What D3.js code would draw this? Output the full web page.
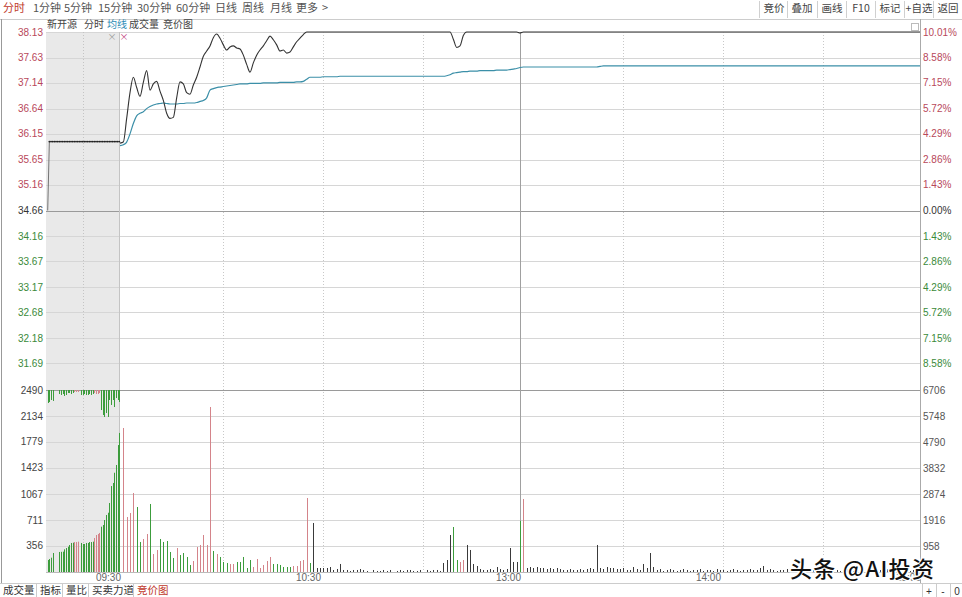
<!DOCTYPE html>
<html>
<head>
<meta charset="utf-8">
<script src="https://cdn.jsdelivr.net/npm/d3@7"></script>
<style>
  body { margin: 0; background: #fff; }
  svg text { font-family: "Noto Sans CJK SC", "Liberation Sans", sans-serif; }
  .num { font-family: "Liberation Sans", Arial, sans-serif; }
</style>
</head>
<body>
<div id="chart"></div>
<script>
// ---- data ----
var prevClose = 34.66;
var priceTicks = ["38.13","37.63","37.14","36.64","36.15","35.65","35.16","34.66","34.16","33.67","33.17","32.68","32.18","31.69"];
var pctTicks = ["10.01%","8.58%","7.15%","5.72%","4.29%","2.86%","1.43%","0.00%","1.43%","2.86%","4.29%","5.72%","7.15%","8.58%"];
var volTicksL = ["2490","2134","1779","1423","1067","711","356"];
var volTicksR = ["6706","5748","4790","3832","2874","1916","958"];
var timeLabels = [["09:30", 0], ["10:30", 60], ["13:00", 120], ["14:00", 180], ["15:00", 240]];
var gridMinutes = [30, 60, 90, 150, 180, 210];

// call auction 9:15-9:25
var aucPrice = [34.66,36.00,36.00,36.00,36.00,36.00,36.00,36.00,36.00,36.00,
  36.00,36.00,36.00,36.00,36.00,36.00,36.00,36.00,36.00,36.00,
  36.00,36.00,36.00,36.00,36.00,36.00,36.00,36.00,36.00,36.00,
  36.00,36.00,36.00,36.00,36.00,36.00,36.00,36.00,36.00,36.00,
  36.00,36.00,36.00,36.00];
var aucMatched = [164,178,196,260,0,0,0,274,276,278,310,328,346,369,397,401,410,410,415,0,
  397,383,383,397,397,410,410,415,465,506,520,534,620,643,711,780,811,944,1176,1218,
  1358,1464,1737,1902];
var aucUnmatched = [178,164,137,150,0,0,0,55,68,55,82,68,41,41,55,41,27,27,27,0,
  68,68,55,68,68,55,68,55,41,55,55,41,274,342,369,315,369,137,205,137,
  233,110,137,164];
var aucDir = "ggggggggggggggggrrrgggggggggrrrrgggggggggggg";

// continuous trading, one value per minute from 09:30 (index 0) to 15:00 (index 240)
var price = [
  35.97,35.99,36.45,36.95,37.25,37.05,36.88,37.15,37.38,37.00,
  37.12,37.17,36.98,36.80,36.55,36.45,36.47,36.85,37.16,37.12,
  36.95,36.92,37.10,37.25,37.45,37.66,37.76,37.86,38.02,38.09,
  38.01,37.88,37.78,37.84,37.86,37.82,37.80,37.68,37.50,37.35,
  37.53,37.68,37.78,37.86,37.96,38.05,37.98,37.88,37.76,37.78,
  37.72,37.74,37.84,37.94,38.01,38.08,38.13,38.13,38.13,38.13,
  38.13,38.13,38.13,38.13,38.13,38.13,38.13,38.13,38.13,38.13,
  38.13,38.13,38.13,38.13,38.13,38.13,38.13,38.13,38.13,38.13,
  38.13,38.13,38.13,38.13,38.13,38.13,38.13,38.13,38.13,38.13,
  38.13,38.13,38.13,38.13,38.13,38.13,38.13,38.13,38.13,38.13,
  37.99,37.83,37.86,38.06,38.13,38.13,38.13,38.13,38.13,38.13,
  38.13,38.13,38.13,38.13,38.13,38.13,38.13,38.13,38.13,38.13,
  38.11,38.13,38.13,38.13,38.13,38.13,38.13,38.13,38.13,38.13,
  38.13,38.13,38.13,38.13,38.13,38.13,38.13,38.13,38.13,38.13,
  38.13,38.13,38.13,38.13,38.13,38.13,38.13,38.13,38.13,38.13,
  38.13,38.13,38.13,38.13,38.13,38.13,38.13,38.13,38.13,38.13,
  38.13,38.13,38.13,38.13,38.13,38.13,38.13,38.13,38.13,38.13,
  38.13,38.13,38.13,38.13,38.13,38.13,38.13,38.13,38.13,38.13,
  38.13,38.13,38.13,38.13,38.13,38.13,38.13,38.13,38.13,38.13,
  38.13,38.13,38.13,38.13,38.13,38.13,38.13,38.13,38.13,38.13,
  38.13,38.13,38.13,38.13,38.13,38.13,38.13,38.13,38.13,38.13,
  38.13,38.13,38.13,38.13,38.13,38.13,38.13,38.13,38.13,38.13,
  38.13,38.13,38.13,38.13,38.13,38.13,38.13,38.13,38.13,38.13,
  38.13,38.13,38.13,38.13,38.13,38.13,38.13,38.13,38.13,38.13,
  38.13];
var avgPrice = [
  35.92,35.94,35.99,36.15,36.35,36.50,36.55,36.58,36.64,36.68,
  36.71,36.73,36.74,36.75,36.74,36.73,36.73,36.73,36.74,36.74,
  36.75,36.75,36.75,36.76,36.78,36.80,36.85,37.00,37.03,37.05,
  37.06,37.07,37.08,37.09,37.10,37.11,37.12,37.12,37.12,37.13,
  37.13,37.13,37.13,37.14,37.14,37.14,37.14,37.14,37.15,37.15,
  37.15,37.15,37.15,37.16,37.16,37.17,37.21,37.25,37.25,37.25,
  37.25,37.26,37.26,37.26,37.26,37.26,37.27,37.27,37.27,37.27,
  37.27,37.27,37.27,37.27,37.27,37.27,37.27,37.27,37.27,37.27,
  37.27,37.27,37.27,37.27,37.27,37.27,37.27,37.27,37.27,37.27,
  37.27,37.27,37.27,37.27,37.27,37.27,37.27,37.27,37.28,37.30,
  37.33,37.34,37.35,37.36,37.36,37.37,37.37,37.37,37.38,37.38,
  37.38,37.38,37.38,37.39,37.39,37.39,37.39,37.40,37.41,37.42,
  37.44,37.45,37.45,37.45,37.45,37.45,37.45,37.45,37.45,37.45,
  37.45,37.45,37.45,37.45,37.45,37.45,37.45,37.45,37.45,37.45,
  37.45,37.45,37.45,37.45,37.46,37.47,37.47,37.47,37.47,37.47,
  37.47,37.47,37.47,37.47,37.47,37.47,37.47,37.47,37.47,37.47,
  37.47,37.47,37.47,37.47,37.47,37.47,37.47,37.47,37.47,37.47,
  37.47,37.47,37.47,37.47,37.47,37.47,37.47,37.47,37.47,37.47,
  37.47,37.47,37.47,37.47,37.47,37.47,37.47,37.47,37.47,37.47,
  37.47,37.47,37.47,37.47,37.47,37.47,37.47,37.47,37.47,37.47,
  37.47,37.47,37.47,37.47,37.47,37.47,37.47,37.47,37.47,37.47,
  37.47,37.47,37.47,37.47,37.47,37.47,37.47,37.47,37.47,37.47,
  37.47,37.47,37.47,37.47,37.47,37.47,37.47,37.47,37.47,37.47,
  37.47,37.47,37.47,37.47,37.47,37.47,37.47,37.47,37.47,37.47,
  37.47];
// volume (hands) for minutes 1..240
var volume = [
  5306,2027,2174,2911,2395,1106,1216,1400,2506,663,
  811,1216,1106,1142,737,516,884,626,700,553,
  258,405,921,995,1363,995,6080,774,663,553,
  369,332,295,295,369,369,553,147,442,184,
  479,147,258,405,553,295,295,258,184,184,
  184,221,221,405,442,2727,332,1806,147,147,
  147,147,184,74,110,295,74,74,37,74,
  74,110,74,37,0,74,37,37,74,37,
  74,0,37,74,37,74,74,37,37,74,
  0,74,37,74,74,37,332,442,1363,1658,
  442,369,442,995,811,295,221,110,74,74,
  110,74,184,110,74,110,884,369,369,1879,
  2690,147,184,147,184,147,147,110,147,110,
  147,110,74,74,110,74,74,110,74,110,
  147,110,995,147,110,184,147,147,110,110,
  147,74,74,184,110,74,295,147,700,184,
  74,110,37,74,110,74,37,74,110,74,
  37,74,74,110,37,74,74,37,110,74,
  74,37,74,110,74,37,74,74,110,74,
  74,147,221,74,110,74,37,74,74,110,
  74,37,74,74,110,37,74,74,37,74,
  74,110,37,74,74,37,74,110,74,37,
  74,74,37,110,74,74,37,74,74,110,
  74,37,74,74,110,74,37,74,74,110];
var volDir =
  "rrrrggrrgr" + "rgggggrggg" + "grrrrrrgrg" + "ggrrgggggr" + "rrrrrggggg" +
  "grrrrrgkkk" + "kkkkkkkkkk" + "kkkkkkkkkk" + "kkkkkkkkkk" + "kkkkkkkkkg" +
  "grrkkkkkkk" + "kkkkkkkkkg" + "rkkkkkkkkk" + "kkkkkkkkkk" + "kkkkkkkkkk" +
  "kkkkkkkkkk" + "kkkkkkkkkk" + "kkkkkkkkkk" + "kkkkkkkkkk" + "kkkkkkkkkk" +
  "kkkkkkkkkk" + "kkkkkkkkkk" + "kkkkkkkkkk" + "kkkkkkkkkk";

var periods = ["1分钟","5分钟","15分钟","30分钟","60分钟","日线","周线","月线","更多",">"];
var periodX = [33,64,98,137,176,215,242,270,296,322];
var tools = ["竞价","叠加","画线","F10","标记","+自选","返回"];
var toolX = [774,802,832,861,890,919,948];
var legendItems = ["新开源","分时","均线","成交量","竞价图"];
var legendX = [47,84,107,129,163];
var tabs = ["成交量","指标","量比","买卖力道","竞价图"];
var tabX = [3,40,66,92,137];

(function() {
  var width = 962,
      height = 597;

  var red = "#b8485a", green = "#3a8a3a", dark = "#333";
  var barColor = { r: "#d4848a", g: "#3c9c3c", k: "#3a3a3a" };

  var svg = d3.select("#chart")
    .append("svg")
    .attr("width", width)
    .attr("height", height);

  var x = d3.scaleLinear().domain([0, 240]).range([120, 920]);
  var xAuc = d3.scaleLinear().domain([0, 43]).range([47.7, 119.3]);
  var yPrice = d3.scaleLinear().domain([31.19, 38.13]).range([389, 32]);
  var yVolL = d3.scaleLinear().domain([0, 2490]).range([572, 390]);
  var yVolR = d3.scaleLinear().domain([0, 6706]).range([572, 390]);

  // toolbar
  svg.append("text").attr("x", 3).attr("y", 12).attr("font-size", 11)
    .attr("fill", "#c0392b").text("分时");
  svg.selectAll(".period").data(periods).enter().append("text")
    .attr("x", function(d, i) { return periodX[i]; })
    .attr("y", 12).attr("font-size", 11).attr("fill", "#555")
    .text(function(d) { return d; });
  svg.selectAll(".tool").data(tools).enter().append("text")
    .attr("x", function(d, i) { return toolX[i]; })
    .attr("y", 12).attr("font-size", 10.5).attr("fill", "#444")
    .attr("text-anchor", "middle")
    .text(function(d) { return d; });
  svg.selectAll(".toolsep").data(toolX).enter().append("line")
    .attr("x1", function(d) { return d - 14.5; }).attr("x2", function(d) { return d - 14.5; })
    .attr("y1", 1).attr("y2", 18).attr("stroke", "#d0d0d0");
  svg.append("line").attr("x1", 0).attr("x2", width).attr("y1", 19.5).attr("y2", 19.5)
    .attr("stroke", "#ccc");

  // frame
  svg.append("line").attr("x1", 1.5).attr("x2", 1.5).attr("y1", 19).attr("y2", 583)
    .attr("stroke", "#999");
  svg.append("line").attr("x1", 920.5).attr("x2", 920.5).attr("y1", 19).attr("y2", 583)
    .attr("stroke", "#aaa");
  svg.append("rect").attr("x", 911.5).attr("y", 23.5).attr("width", 7).attr("height", 7)
    .attr("fill", "none").attr("stroke", "#bbb");

  // auction background
  svg.append("rect").attr("x", 46).attr("y", 32).attr("width", 74).attr("height", 540)
    .attr("fill", "#e9e9e9");

  // legend row
  svg.selectAll(".legend").data(legendItems).enter().append("text")
    .attr("x", function(d, i) { return legendX[i]; })
    .attr("y", 28).attr("font-size", 10)
    .attr("fill", function(d) { return d === "均线" ? "#2a8bb5" : "#444"; })
    .text(function(d) { return d; });
  svg.append("text").attr("x", 112).attr("y", 40).attr("font-size", 9)
    .attr("text-anchor", "middle").attr("fill", "#999").text("×");
  svg.append("text").attr("x", 124).attr("y", 40).attr("font-size", 9)
    .attr("text-anchor", "middle").attr("fill", "#c0407a").text("×");

  // horizontal grid
  svg.selectAll(".hgrid").data(priceTicks).enter().append("line")
    .attr("x1", 46).attr("x2", 920)
    .attr("y1", function(d) { return Math.round(yPrice(+d)) + 0.5; })
    .attr("y2", function(d) { return Math.round(yPrice(+d)) + 0.5; })
    .attr("stroke", function(d, i) { return i === 7 ? "#9a9a9a" : "#d6d6d6"; });
  svg.selectAll(".vgridh").data(volTicksL).enter().append("line")
    .attr("x1", 46).attr("x2", 920)
    .attr("y1", function(d) { return Math.round(yVolL(+d)) + 0.5; })
    .attr("y2", function(d) { return Math.round(yVolL(+d)) + 0.5; })
    .attr("stroke", function(d, i) { return i === 0 ? "#9a9a9a" : "#d6d6d6"; });
  svg.append("line").attr("x1", 46).attr("x2", 920).attr("y1", 572.5).attr("y2", 572.5)
    .attr("stroke", "#bbb");

  // vertical grid
  svg.selectAll(".vgrid").data(gridMinutes).enter().append("line")
    .attr("x1", function(d) { return Math.round(x(d)) + 3.5; })
    .attr("x2", function(d) { return Math.round(x(d)) + 3.5; })
    .attr("y1", 32).attr("y2", 572)
    .attr("stroke", "#c8c8c8").attr("stroke-dasharray", "1,2");
  svg.append("line").attr("x1", 83.5).attr("x2", 83.5).attr("y1", 32).attr("y2", 572)
    .attr("stroke", "#c4c4c4").attr("stroke-dasharray", "1,2");
  svg.append("line").attr("x1", x(0) - 0.5).attr("x2", x(0) - 0.5).attr("y1", 32).attr("y2", 572)
    .attr("stroke", "#c4c4c4");
  svg.append("line").attr("x1", x(120) + 0.5).attr("x2", x(120) + 0.5).attr("y1", 32).attr("y2", 572)
    .attr("stroke", "#a0a0a0");

  // left / right axis labels
  svg.selectAll(".pl").data(priceTicks).enter().append("text")
    .attr("class", "num")
    .attr("x", 43).attr("y", function(d) { return yPrice(+d); })
    .attr("dy", "0.35em").attr("text-anchor", "end").attr("font-size", 10)
    .attr("fill", function(d, i) { return i < 7 ? red : (i === 7 ? dark : green); })
    .text(function(d) { return d; });
  svg.selectAll(".pr").data(pctTicks).enter().append("text")
    .attr("class", "num")
    .attr("x", 923).attr("y", function(d, i) { return yPrice(+priceTicks[i]); })
    .attr("dy", "0.35em").attr("font-size", 10)
    .attr("fill", function(d, i) { return i < 7 ? red : (i === 7 ? dark : green); })
    .text(function(d) { return d; });
  svg.selectAll(".vl").data(volTicksL).enter().append("text")
    .attr("class", "num")
    .attr("x", 43).attr("y", function(d) { return yVolL(+d); })
    .attr("dy", "0.35em").attr("text-anchor", "end").attr("font-size", 10)
    .attr("fill", "#444")
    .text(function(d) { return d; });
  svg.selectAll(".vr").data(volTicksR).enter().append("text")
    .attr("class", "num")
    .attr("x", 923).attr("y", function(d) { return yVolR(+d); })
    .attr("dy", "0.35em").attr("font-size", 10)
    .attr("fill", "#555")
    .text(function(d) { return d; });

  // auction volume
  var aucIdx = d3.range(aucMatched.length);
  svg.selectAll(".aucup").data(aucIdx).enter().append("line")
    .attr("x1", function(i) { return Math.round(xAuc(i)) + 0.5; })
    .attr("x2", function(i) { return Math.round(xAuc(i)) + 0.5; })
    .attr("y1", 572).attr("y2", function(i) { return yVolL(aucMatched[i]); })
    .attr("stroke", function(i) { return barColor[aucDir[i]]; });
  svg.selectAll(".aucdown").data(aucIdx).enter().append("line")
    .attr("x1", function(i) { return Math.round(xAuc(i)) + 0.5; })
    .attr("x2", function(i) { return Math.round(xAuc(i)) + 0.5; })
    .attr("y1", 390).attr("y2", function(i) { return 390 + (572 - yVolL(aucUnmatched[i])); })
    .attr("stroke", function(i) { return barColor[aucDir[i]]; });

  // continuous volume
  svg.selectAll(".vol").data(volume).enter().append("line")
    .attr("x1", function(d, i) { return Math.round(x(i + 1)) + 0.5; })
    .attr("x2", function(d, i) { return Math.round(x(i + 1)) + 0.5; })
    .attr("y1", 572).attr("y2", function(d) { return yVolR(d); })
    .attr("stroke", function(d, i) { return barColor[volDir[i]]; });

  // price lines
  var aucLine = d3.line()
    .x(function(d, i) { return xAuc(i); })
    .y(function(d) { return yPrice(d); });
  svg.append("path").attr("d", aucLine(aucPrice))
    .attr("fill", "none").attr("stroke", "#555").attr("stroke-width", 0.8);
  svg.selectAll(".aucdot").data(aucPrice.slice(1)).enter().append("circle")
    .attr("cx", function(d, i) { return xAuc(i + 1); })
    .attr("cy", function(d) { return yPrice(d); })
    .attr("r", 0.9).attr("fill", "#222");

  var line = d3.line()
    .x(function(d, i) { return x(i); })
    .y(function(d) { return yPrice(d); })
    .curve(d3.curveMonotoneX);
  svg.append("path").attr("d", line(avgPrice))
    .attr("fill", "none").attr("stroke", "#3b8fa8").attr("stroke-width", 1.2);
  svg.append("path").attr("d", line(price))
    .attr("fill", "none").attr("stroke", "#333").attr("stroke-width", 1.1);

  // time labels
  svg.selectAll(".tl").data(timeLabels).enter().append("text")
    .attr("class", "num")
    .attr("x", function(d) { return x(d[1]) + 1; })
    .attr("y", 581).attr("text-anchor", "end").attr("font-size", 10)
    .attr("fill", "#666")
    .text(function(d) { return d[0]; });

  // bottom tabs
  svg.append("line").attr("x1", 0).attr("x2", width).attr("y1", 583.5).attr("y2", 583.5)
    .attr("stroke", "#ccc");
  svg.selectAll(".tab").data(tabs).enter().append("text")
    .attr("x", function(d, i) { return tabX[i]; })
    .attr("y", 594).attr("font-size", 10.5)
    .attr("fill", function(d) { return d === "竞价图" ? "#c0392b" : "#333"; })
    .text(function(d) { return d; });
  svg.selectAll(".tabsep").data(tabX.slice(1)).enter().append("line")
    .attr("x1", function(d) { return d - 3.5; }).attr("x2", function(d) { return d - 3.5; })
    .attr("y1", 584).attr("y2", 597).attr("stroke", "#ccc");
  svg.selectAll(".zoombtn").data(["+", "-", "0"]).enter().append("text")
    .attr("class", "num")
    .attr("x", function(d, i) { return 929 + i * 14; })
    .attr("y", 595).attr("font-size", 10).attr("text-anchor", "middle")
    .attr("fill", "#333")
    .text(function(d) { return d; });
  svg.selectAll(".zsep").data([922, 936, 950]).enter().append("line")
    .attr("x1", function(d) { return d + 0.5; }).attr("x2", function(d) { return d + 0.5; })
    .attr("y1", 584).attr("y2", 597).attr("stroke", "#ccc");

  // watermark
  svg.append("text").attr("x", 790).attr("y", 577).attr("font-size", 22)
    .attr("font-weight", 500)
    .attr("fill", "#111").attr("stroke", "#fff").attr("stroke-width", 3)
    .attr("paint-order", "stroke").attr("letter-spacing", 1.3)
    .text("头条 @AI投资");
})();
</script>
</body>
</html>
